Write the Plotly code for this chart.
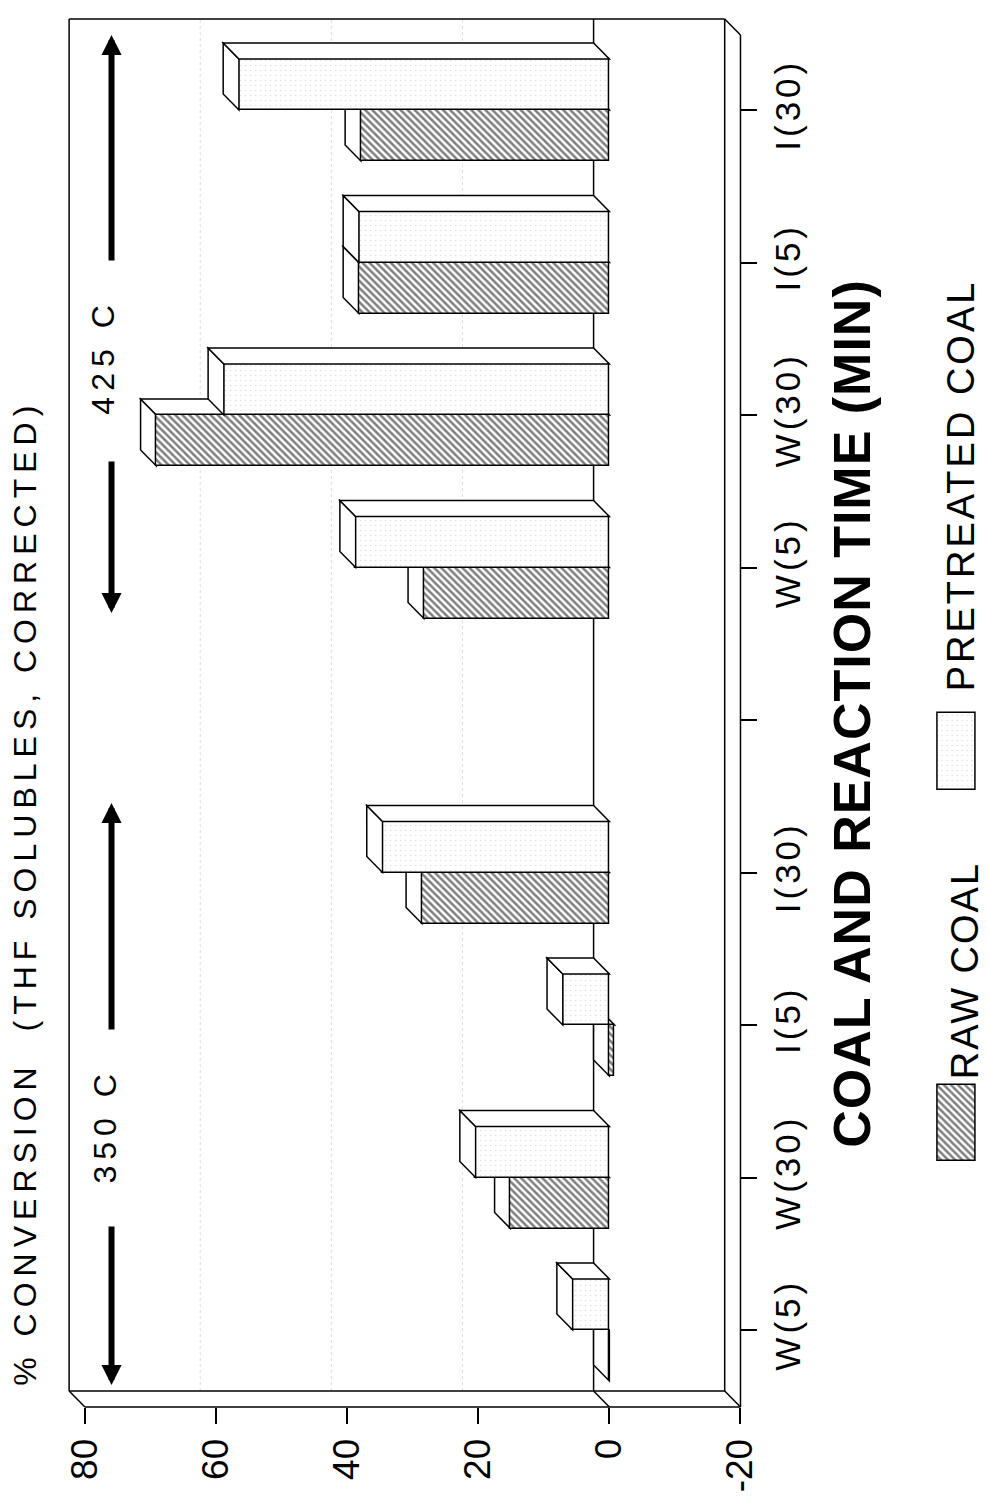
import plotly.graph_objects as go

# ---------------- data ----------------
categories = ["W(5)", "W(30)", "I(5)", "I(30)"]
temperature_groups = ["350 C", "425 C"]
raw_350 = [0.0, 15.1, -0.8, 28.6]
pretreated_350 = [5.6, 20.4, 7.1, 34.6]
raw_425 = [28.3, 69.1, 38.2, 37.9]
pretreated_425 = [38.7, 58.8, 38.2, 56.5]
value_ticks = [80, 60, 40, 20, 0, -20]
series_names = ["RAW COAL", "PRETREATED COAL"]
value_title = "% CONVERSION\u00a0 (THF SOLUBLES, CORRECTED)"
category_title = "COAL AND REACTION TIME (MIN)"

# ---------------- geometry (rotated page) ----------------
W, H = 988, 1503
PX0, PXU = 610.0, 6.65      # pixel x of value 0 (front plane), px per unit
PY0, PYU = 1322.0, 152.5    # pixel y of slot 0, px per slot
DEPTH = 16.0
DX, DY = DEPTH / PXU, DEPTH / PYU
BW = 51.0 / PYU             # bar thickness in slot units
FONT = "Liberation Sans, Arial, sans-serif"


def vx(px):
    return (PX0 - px) / PXU


def cy(py):
    return (PY0 - py) / PYU


def ls(text, px):
    return '<span style="letter-spacing:%gpx">%s</span>' % (px, text)


# slots: 350 C group 0..3, empty slot 4, 425 C group 5..8
slots_350 = list(range(len(categories)))
slots_425 = [len(categories) + 1 + i for i in range(len(categories))]
raw_vals = raw_350 + raw_425
pre_vals = pretreated_350 + pretreated_425
slots = slots_350 + slots_425
tick_slots = list(range(len(categories) * 2 + 1))
tick_text = [ls(c, 4) for c in categories] + [""] + [ls(c, 4) for c in categories]

raw_pattern = dict(shape="\\", fgcolor="black", bgcolor="white", size=5, solidity=0.5)
pre_pattern = dict(shape=".", fgcolor="#b4b4b4", bgcolor="white", size=5, solidity=0.07)

fig = go.Figure()
fig.add_trace(go.Bar(
    x=raw_vals, y=[s - BW / 2 for s in slots], base=0, width=BW, orientation="h",
    marker=dict(color="white", pattern=raw_pattern, line=dict(color="black", width=1.5)),
    name=series_names[0], showlegend=False, hoverinfo="x"))
fig.add_trace(go.Bar(
    x=pre_vals, y=[s + BW / 2 for s in slots], base=0, width=BW, orientation="h",
    marker=dict(color="white", pattern=pre_pattern, line=dict(color="black", width=1.5)),
    name=series_names[1], showlegend=False, hoverinfo="x"))

# legend swatches on their own small axes
fig.add_trace(go.Bar(
    x=[1], y=[43], base=0, width=76, orientation="h", xaxis="x2", yaxis="y2",
    marker=dict(color="white", pattern=raw_pattern, line=dict(color="black", width=1.5)),
    showlegend=False, hoverinfo="skip"))
fig.add_trace(go.Bar(
    x=[1], y=[414.5], base=0, width=77, orientation="h", xaxis="x2", yaxis="y2",
    marker=dict(color="white", pattern=pre_pattern, line=dict(color="black", width=1.5)),
    showlegend=False, hoverinfo="skip"))

shapes = []
LINE = dict(color="black", width=1.5)


def seg(x0, y0, x1, y1, line=LINE, layer="below"):
    shapes.append(dict(type="line", xref="x", yref="y", x0=x0, y0=y0, x1=x1, y1=y1,
                       line=line, layer=layer))


def poly(pts, layer):
    d = "M " + " L ".join("%.4f,%.4f" % p for p in pts) + " Z"
    shapes.append(dict(type="path", xref="x", yref="y", path=d, fillcolor="white",
                       line=dict(color="black", width=1.5), layer=layer))


vmax, vmin = value_ticks[0], value_ticks[-1]
c_front_bot = cy(1399)
c_back_bot = c_front_bot + DY
c_top = cy(11)

# faint dotted grid on the back wall
for v in value_ticks[1:4]:
    seg(v + DX, c_back_bot, v + DX, c_top, line=dict(color="#dddddd", width=1, dash="dot"))
# back wall
seg(vmax + DX, c_back_bot, vmax + DX, c_top)
seg(vmax + DX, c_top, vmin + DX, c_top)
seg(vmin + DX, c_back_bot, vmin + DX, c_top)
seg(vmax + DX, c_back_bot, vmin + DX, c_back_bot)
# front edges and depth diagonals
seg(vmax, c_front_bot, vmin, c_front_bot)
seg(vmin, c_front_bot, vmin, c_top - DY)
seg(vmax + DX, c_back_bot, vmax, c_front_bot)
seg(vmin + DX, c_back_bot, vmin, c_front_bot)
seg(vmin + DX, c_top, vmin, c_top - DY)
# zero line on back wall
seg(DX, c_back_bot, DX, c_top)
seg(DX, c_back_bot, 0, c_front_bot)


def box_faces(v, yc, layer):
    y0, y1 = yc - BW / 2, yc + BW / 2
    vl, vm = max(v, 0.0), min(v, 0.0)
    poly([(vl, y0), (vl, y1), (vl + DX, y1 + DY), (vl + DX, y0 + DY)], layer)
    if vl - vm > 1e-9:
        poly([(vm, y1), (vl, y1), (vl + DX, y1 + DY), (vm + DX, y1 + DY)], layer)


for v, s in zip(raw_vals, slots):
    box_faces(v, s - BW / 2, "below")
for v, s in zip(pre_vals, slots):
    box_faces(v, s + BW / 2, "above")

annotations = []
ARROW_V = vx(105)


def arrow(tip_py, tail_py):
    annotations.append(dict(x=ARROW_V, y=cy(tip_py), ax=ARROW_V, ay=cy(tail_py),
                            xref="x", yref="y", axref="x", ayref="y", text="",
                            showarrow=True, arrowhead=2, arrowsize=0.67, arrowwidth=6,
                            arrowcolor="black", standoff=0, startstandoff=0))


arrow(1377, 1217)
arrow(795, 1023)
arrow(27, 254)
arrow(605, 452)


def label(text, px, py, size, bold=False):
    annotations.append(dict(x=px / W, y=1 - py / H, xref="paper", yref="paper",
                            text=text, showarrow=False, textangle=-90,
                            xanchor="center", yanchor="middle",
                            font=dict(family=FONT, size=size, color="black",
                                      weight="bold" if bold else "normal")))


label(ls(temperature_groups[0], 6), 98, 1118, 32)
label(ls(temperature_groups[1], 6), 96, 349, 32)
label(ls(value_title, 6), 17, 885, 32)
label(ls(category_title, 1), 856, 705, 52, bold=True)
label(ls(series_names[0], 2), 971, 963, 38)
label(ls(series_names[1], 3), 967, 477, 38)

fig.update_layout(
    width=W, height=H, margin=dict(l=0, r=0, t=0, b=0),
    paper_bgcolor="white", plot_bgcolor="white", showlegend=False,
    barmode="overlay", bargap=0,
    shapes=shapes, annotations=annotations,
    xaxis=dict(domain=[56 / W, 749 / W], range=[vx(56), vx(749)], anchor="free",
               position=1 - 1399 / H, showgrid=False, zeroline=False, showline=False,
               ticks="outside", ticklen=16, tickwidth=1.5, tickcolor="black",
               tickvals=value_ticks, ticktext=[str(t) for t in value_ticks],
               tickangle=-90, ticklabelstandoff=0,
               tickfont=dict(family=FONT, size=37, color="black"), fixedrange=True),
    yaxis=dict(domain=[1 - 1405 / H, 1 - 5 / H], range=[cy(1405), cy(5)], anchor="free",
               side="right", position=743 / W, showgrid=False, zeroline=False,
               showline=False, ticks="outside", ticklen=16, tickwidth=1.5,
               tickcolor="black", tickvals=tick_slots, ticktext=tick_text,
               tickangle=-90, ticklabelstandoff=1,
               tickfont=dict(family=FONT, size=35, color="black"), fixedrange=True),
    xaxis2=dict(domain=[940 / W, 985 / W], range=[-3 / 39, 1 + 3 / 39], anchor="y2",
                visible=False, fixedrange=True),
    yaxis2=dict(domain=[1 - 1158 / H, 1 - 700 / H], range=[0, 458], anchor="x2",
                visible=False, fixedrange=True),
)

fig.write_html("out.html")
